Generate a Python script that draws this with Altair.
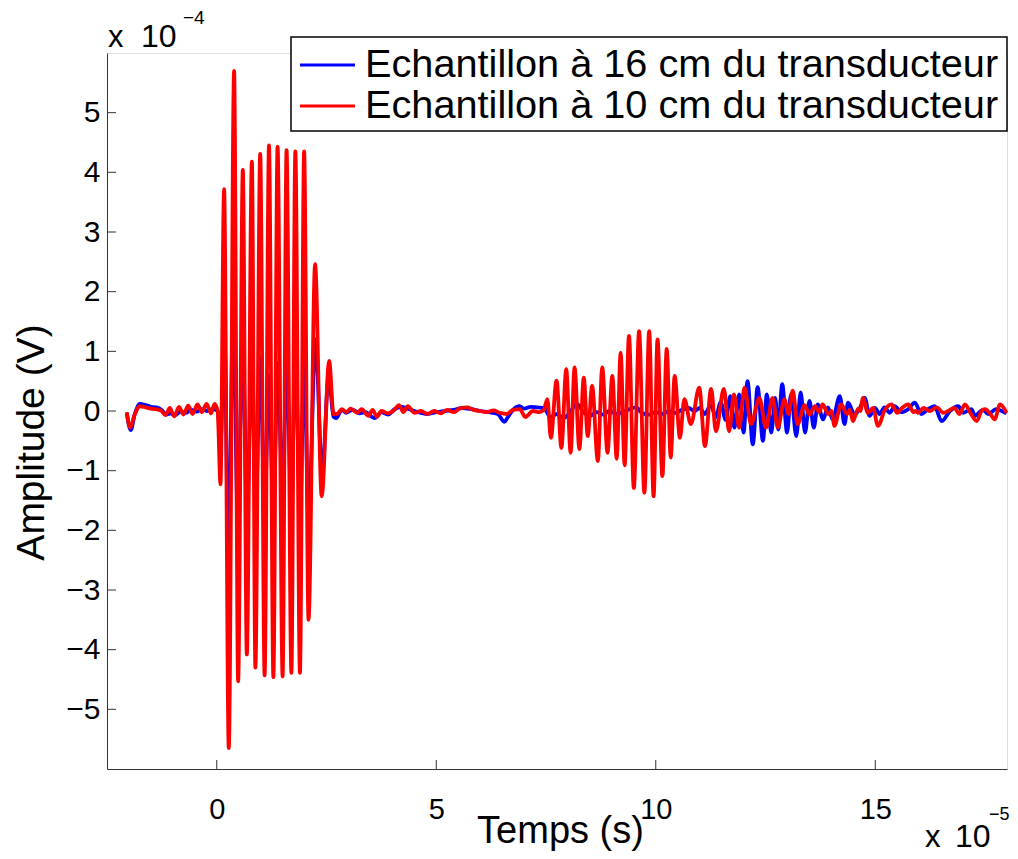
import altair as alt
import pandas as pd

# ---------------- data (time in units of 1e-5 s, amplitude in units of 1e-4 V) -------------
SERIES = ["Echantillon à 16 cm du transducteur", "Echantillon à 10 cm du transducteur"]
COLORS = ["#0000ff", "#ff0000"]

t_blue = [-2.05, -1.96, -1.87, -1.75, -1.62, -1.50, -1.38, -1.26, -1.15, -1.05, -0.95, -0.82, -0.70,
          -0.58, -0.46, -0.34, -0.22, -0.10, 0.02,
          0.09, 0.17, 0.27, 0.375, 0.48, 0.59, 0.69, 0.80, 0.89, 0.99, 1.09, 1.19, 1.29, 1.39, 1.50,
          1.59, 1.70, 1.79, 1.90, 1.99, 2.09, 2.25, 2.40, 2.55, 2.66, 2.72, 2.85,
          2.95, 3.10, 3.25, 3.40, 3.50, 3.60, 3.75, 3.90, 4.05, 4.20, 4.35, 4.50, 4.65, 4.80, 5.00,
          5.20, 5.40, 5.60, 5.80, 6.00, 6.20, 6.40, 6.55, 6.65, 6.75, 6.90, 7.00, 7.15, 7.30, 7.45,
          7.60, 7.75, 7.90, 8.05, 8.20, 8.35, 8.50, 8.65, 8.80, 8.95, 9.10, 9.25, 9.40, 9.55, 9.70,
          9.85, 10.00, 10.15, 10.30, 10.45, 10.60, 10.75, 10.88,
          11.00, 11.12, 11.25, 11.37, 11.48, 11.59, 11.70, 11.79, 11.90, 12.00, 12.09, 12.21, 12.32,
          12.44, 12.53, 12.63, 12.72, 12.79, 12.88, 12.99, 13.08, 13.20, 13.30, 13.40, 13.50, 13.60,
          13.69, 13.81, 13.92, 14.03, 14.19, 14.30, 14.38, 14.53, 14.65, 14.76, 14.87, 14.99, 15.10,
          15.21, 15.33, 15.44, 15.59, 15.75, 15.90, 16.05, 16.20, 16.35, 16.51, 16.70, 16.89, 17.00,
          17.19, 17.27, 17.45, 17.57, 17.75, 17.88, 17.99]
a_blue = [-0.03, -0.32, -0.06, 0.12, 0.10, 0.07, 0.06, 0.02, -0.06, -0.04, -0.07, -0.01, -0.03,
          0.02, -0.01, 0.03, 0.0, 0.03, 0.0,
          -0.5, 1.4, -2.5, 1.8, -1.9, 1.2, -1.7, 0.85, -1.6, 0.9, -1.6, 0.6, -1.7, 0.8, -1.5,
          0.9, -1.6, 1.0, -1.7, 0.9, -1.8, 1.2, -1.05, 0.6, -0.1, -0.12, 0.02,
          -0.03, 0.02, -0.04, -0.02, -0.08, -0.12, -0.02, -0.06, 0.03, 0.07, 0.04, 0.0, -0.03, -0.05, -0.02,
          0.0, 0.02, 0.05, 0.03, 0.0, -0.02, -0.05, -0.18, -0.08, 0.02, 0.08, 0.04, 0.07, 0.06, 0.05,
          -0.10, -0.05, -0.12, -0.02, 0.12, -0.02, -0.08, -0.02, -0.06, 0.0, -0.05, -0.02, 0.03, 0.06, -0.04,
          -0.06, -0.02, -0.05, 0.0, -0.03, 0.02, 0.05, 0.0,
          0.05, -0.05, 0.10, -0.10, 0.15, -0.15, 0.25, -0.28, 0.28, -0.36, 0.50, -0.56, 0.40,
          -0.50, 0.28, -0.36, 0.22, -0.31, 0.45, -0.36, 0.28, -0.42, 0.31, -0.36, 0.17, -0.28,
          0.11, -0.14, 0.06, -0.14, 0.25, -0.22, 0.14, -0.06, 0.05, 0.22, -0.08, 0.05, -0.05,
          0.06, -0.03, 0.08, -0.02, 0.03, 0.14, -0.05, 0.03, 0.08, -0.17, 0.0, 0.08, -0.03,
          0.03, -0.08, 0.02, -0.05, 0.03, 0.0, -0.04]

t_red = [-2.05, -1.97, -1.88, -1.75, -1.62, -1.50, -1.38, -1.26, -1.17, -1.07, -0.97, -0.86, -0.76,
         -0.65, -0.55, -0.44, -0.34, -0.23, -0.13, -0.05, 0.02,
         0.085, 0.167, 0.274, 0.395, 0.487, 0.594, 0.685, 0.80, 0.88, 0.99, 1.09, 1.19, 1.29, 1.385,
         1.50, 1.59, 1.70, 1.79, 1.895, 1.99, 2.09, 2.24, 2.39, 2.56, 2.66,
         2.74, 2.85, 2.95, 3.05, 3.20, 3.30, 3.45, 3.55, 3.65, 3.75, 3.90, 4.05, 4.15, 4.25, 4.35,
         4.50, 4.65, 4.80, 4.95, 5.10, 5.25, 5.40, 5.55, 5.70, 5.85, 6.00, 6.15, 6.30, 6.45, 6.60,
         6.75, 6.90, 7.03, 7.20, 7.35, 7.45,
         7.53, 7.61, 7.74, 7.85, 7.96, 8.06, 8.15, 8.26, 8.36, 8.45, 8.55, 8.68, 8.78, 8.90, 9.01,
         9.11, 9.20, 9.29, 9.39, 9.50, 9.62, 9.74, 9.85, 9.95, 10.04, 10.15, 10.25, 10.34, 10.43,
         10.55, 10.65, 10.80,
         10.99, 11.12, 11.26, 11.37, 11.55, 11.67, 11.78, 11.90, 12.02, 12.17, 12.36, 12.51, 12.66,
         12.78, 12.93, 13.02, 13.12, 13.23, 13.39, 13.50, 13.63, 13.72, 13.80, 13.93, 14.00, 14.07,
         14.22, 14.36, 14.42, 14.49, 14.61, 14.66, 14.72, 14.83, 14.95, 15.06, 15.22, 15.37, 15.50,
         15.62, 15.75, 15.87, 15.92, 15.97, 16.10, 16.24, 16.40, 16.55, 16.66, 16.80, 16.92, 17.04,
         17.18, 17.31, 17.42, 17.50, 17.62, 17.72, 17.84, 17.99]
a_red = [-0.02, -0.28, -0.08, 0.08, 0.06, 0.04, 0.03, 0.0, -0.07, 0.05, -0.09, 0.07, -0.06,
         0.09, -0.05, 0.11, -0.02, 0.12, -0.04, 0.12, 0.0,
         -1.23, 3.72, -5.65, 5.70, -4.53, 4.04, -4.08, 4.18, -4.30, 4.31, -4.43, 4.45, -4.46, 4.43,
         -4.45, 4.37, -4.39, 4.35, -4.39, 4.35, -3.50, 2.46, -1.43, 0.84, -0.05,
         -0.05, 0.03, -0.02, 0.04, -0.03, 0.03, -0.08, 0.02, -0.10, 0.0, -0.04, 0.02, 0.10, -0.02, 0.08,
         -0.03, 0.0, -0.05, 0.0, -0.04, 0.02, -0.02, 0.05, 0.06, 0.02, 0.0, -0.02, 0.01, -0.03, -0.05,
         0.02, 0.03, -0.10, 0.0, -0.02, 0.02,
         0.20, -0.45, 0.51, -0.62, 0.70, -0.70, 0.73, -0.64, 0.56, -0.42, 0.42, -0.84, 0.73, -0.70, 0.59,
         -0.80, 0.98, -0.91, 1.26, -1.29, 1.34, -1.37, 1.34, -1.43, 1.20, -1.09, 1.04, -0.78, 0.59,
         -0.45, 0.20, -0.22,
         0.39, -0.59, 0.37, -0.34, 0.37, -0.34, 0.28, -0.28, 0.39, -0.22, 0.22, -0.28, 0.22,
         -0.28, 0.20, -0.05, 0.34, -0.22, 0.10, -0.06, 0.08, -0.02, 0.11, -0.05, 0.0, -0.25,
         0.11, -0.05, 0.02, -0.17, 0.04, 0.0, 0.22, -0.03, 0.05, -0.25, 0.02, 0.11, -0.03,
         0.06, 0.11, -0.02, 0.0, -0.03, 0.05, 0.0, 0.06, -0.03, 0.0, 0.05, -0.05, 0.11,
         -0.05, -0.17, 0.0, 0.03, -0.05, -0.14, 0.11, -0.03]

x_ticks = [0, 5, 10, 15]
y_ticks = [-5, -4, -3, -2, -1, 0, 1, 2, 3, 4, 5]
x_domain = [-2.5, 18]
y_domain = [-6, 6]

# ---------------- chart -------------
FONT = "Liberation Sans"
W, H = 900, 716
AXC = "#333333"

df = pd.DataFrame({
    "t": t_blue + t_red,
    "a": a_blue + a_red,
    "s": [SERIES[0]] * len(t_blue) + [SERIES[1]] * len(t_red),
})

xscale = alt.Scale(domain=x_domain, nice=False, zero=False)
yscale = alt.Scale(domain=y_domain, nice=False, zero=False)

xaxis = alt.Axis(values=x_ticks, ticks=False, tickSize=0, grid=False, domainColor=AXC, domainWidth=1,
                 labelFont=FONT, labelFontSize=29, labelColor="black", labelPadding=26, format="d",
                 title="Temps (s)", titleFont=FONT, titleFontSize=38, titleFontWeight="normal",
                 titleColor="black", titleX=453, titleY=73, titleAlign="center",
                 titleBaseline="alphabetic")
yaxis = alt.Axis(values=y_ticks, ticks=False, tickSize=0, grid=False, domainColor=AXC, domainWidth=1,
                 labelFont=FONT, labelFontSize=30, labelColor="black", labelPadding=7, format="d",
                 title="Amplitude (V)", titleFont=FONT, titleFontSize=39, titleFontWeight="normal",
                 titleColor="black", titleAngle=270, titleX=-64, titleY=389, titleAlign="center",
                 titleBaseline="alphabetic")

base = alt.Chart(df)


def series_line(name, col):
    return base.transform_filter(alt.datum.s == name).mark_line(
        strokeWidth=3.8, interpolate="monotone", color=col
    ).encode(
        x=alt.X("t:Q", scale=xscale, axis=xaxis),
        y=alt.Y("a:Q", scale=yscale, axis=yaxis),
    )


blue = series_line(SERIES[0], COLORS[0])
red = series_line(SERIES[1], COLORS[1])

xt = alt.Chart(pd.DataFrame({"v": x_ticks})).mark_rule(color=AXC, strokeWidth=1).encode(
    x=alt.X("v:Q", scale=xscale, axis=xaxis), y=alt.value(H), y2=alt.value(H - 9))
yt = alt.Chart(pd.DataFrame({"v": y_ticks})).mark_rule(color=AXC, strokeWidth=1).encode(
    y=alt.Y("v:Q", scale=yscale, axis=yaxis), x=alt.value(0), x2=alt.value(9))

# legend box (drawn manually, MATLAB style)
leg_df = pd.DataFrame({"s": SERIES, "c": COLORS, "row": [0, 1]})
legend_box = alt.Chart(pd.DataFrame({"k": [0]})).mark_rect(
    fill="white", stroke="black", strokeWidth=1.5
).encode(x=alt.value(184), x2=alt.value(900), y=alt.value(-16), y2=alt.value(78))
leg_line0 = alt.Chart(leg_df.iloc[[0]]).mark_rule(strokeWidth=3, color=COLORS[0]).encode(
    x=alt.value(193), x2=alt.value(248), y=alt.value(12))
leg_line1 = alt.Chart(leg_df.iloc[[1]]).mark_rule(strokeWidth=3, color=COLORS[1]).encode(
    x=alt.value(193), x2=alt.value(248), y=alt.value(53))
leg_text0 = alt.Chart(leg_df.iloc[[0]]).mark_text(
    font=FONT, fontSize=39.7, align="left", baseline="middle", color="black"
).encode(text="s:N", x=alt.value(258), y=alt.value(12))
leg_text1 = alt.Chart(leg_df.iloc[[1]]).mark_text(
    font=FONT, fontSize=39.7, align="left", baseline="middle", color="black"
).encode(text="s:N", x=alt.value(258), y=alt.value(53))

# exponent annotations ("x 10" with superscript exponent)
ann_df = pd.DataFrame({"txt": ["x", "10", "\u22124", "x", "10", "\u22125"]})


def ann(i, x, y, size):
    return alt.Chart(ann_df.iloc[[i]]).mark_text(
        font=FONT, fontSize=size, align="left", baseline="alphabetic", color="black"
    ).encode(text="txt:N", x=alt.value(x), y=alt.value(y))


annotations = [
    ann(0, 1, -6, 31), ann(1, 34, -6, 32), ann(2, 76, -29, 19),
    ann(3, 818, 794, 31), ann(4, 848, 794, 32), ann(5, 882, 767, 18),
]

chart = alt.layer(
    blue, red, xt, yt, legend_box, leg_line0, leg_line1, leg_text0, leg_text1, *annotations
).properties(
    width=W, height=H,
    autosize=alt.AutoSizeParams(type="none"),
    padding={"left": 99, "top": 45, "right": 3, "bottom": 82},
).configure_view(stroke=None).configure(background="white")

chart.save("out.html", embed_options={"renderer": "svg", "actions": False})
